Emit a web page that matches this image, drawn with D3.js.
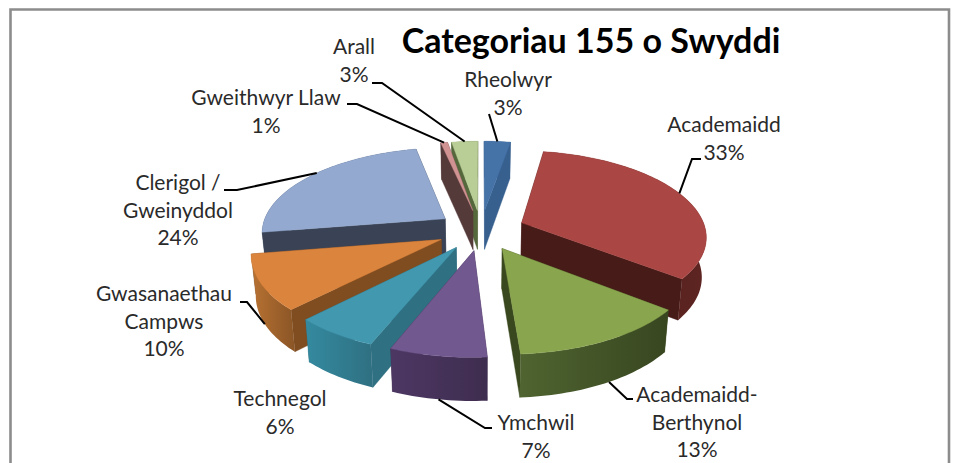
<!DOCTYPE html>
<html><head><meta charset="utf-8">
<script src="https://cdn.jsdelivr.net/npm/d3@7"></script>
<style>html,body{margin:0;background:#fff}svg{display:block}text{font-family:Lato,"Open Sans",sans-serif;fill:#2a2a2a}</style>
</head><body><svg id="c" width="954" height="463"></svg>
<script>
const title = "Categoriau 155 o Swyddi";
const categories = ["Rheolwyr","Academaidd","Academaidd-\nBerthynol","Ymchwil","Technegol","Gwasanaethau\nCampws","Clerigol /\nGweinyddol","Gweithwyr Llaw","Arall"];
const percentLabels = [3,33,13,7,6,10,24,1,3];
const shares = [2.7,33,13.3,7.1,6.2,10.2,24.2,0.7,2.7];
const topColors  = ["#4572A7","#AA4643","#89A54E","#71588F","#4198AF","#DB843D","#93A9CF","#D19392","#B9CD96"];
const wallColors = ["#37608f","#471b18","#3a481f","#3f2d4f","#2f7082","#7f4d20","#3a4356","#553a3a","#55683c"];
const rimLeft    = ["#37608f","#471b18","#4f6430","#4c3763","#348a9f","#b87232","#3a4356","#553a3a","#55683c"];
const rimRight   = ["#37608f","#5e2522","#384620","#3f2d4f","#2f7082","#8a5526","#3a4356","#553a3a","#55683c"];
const labelX = [508,724,697,536,280,164,178,266,354];
const labelY = [87,132,402,430,406,301,190,105,54];
const leaderFrac = [0.5,0.49,0.47,0.5,null,0.5,0.54,0.5,0.5];
const leaderPts = [[[489,114]],[[692,159],[701,159]],[[627,399],[633,399]],[[485,428],[492,428]],null,[[247,302],[240,302]],[[237,190],[224,190]],[[357,104],[347,104]],[[382,83],[372,83]]];

const svg = d3.select("#c"), defs = svg.append("defs");
svg.append("path").attr("d","M10.5 463V9.5H949V463").attr("fill","none").attr("stroke","#8c8c8c").attr("stroke-width",2.6);

const vx=481, a=184, b=583, hy=-353, D=6.9, e=0.24, depth=39.5, shrink=0.02;
function proj(X,Y,Z){const s=1/(1-Y/D);return [vx+a*X*s*(1-shrink*Z), hy+b*s+Z*depth*Math.sqrt(s)];}
const arcs = d3.pie().sort(null).value(d=>d)(shares).map((d,i)=>{
  const m=(d.startAngle+d.endAngle)/2;
  return {i,a0:d.startAngle,a1:d.endAngle,cx:e*Math.sin(m),cy:-e*Math.cos(m)};
});
const rim=(d,t,Z)=>proj(d.cx+Math.sin(t),d.cy-Math.cos(t),Z);
const line=d3.line();
const closed=p=>line(p)+"Z";
const g=svg.append("g");
arcs.slice().sort((p,q)=>p.cy-q.cy).forEach(d=>{
  const n=Math.max(4,Math.ceil((d.a1-d.a0)*40));
  const ts=d3.range(n+1).map(k=>d.a0+(d.a1-d.a0)*k/n);
  const ap0=proj(d.cx,d.cy,0), ap1=proj(d.cx,d.cy,1);
  const gr=defs.append("linearGradient").attr("id","rim"+d.i);
  gr.append("stop").attr("offset","0").attr("stop-color",rimLeft[d.i]);
  gr.append("stop").attr("offset","1").attr("stop-color",rimRight[d.i]);
  [d.a1,d.a0].forEach(t=>{
    g.append("path").attr("d",closed([ap0,rim(d,t,0),rim(d,t,1),ap1])).attr("fill",wallColors[d.i]).attr("stroke",wallColors[d.i]).attr("stroke-width",.4);
  });
  g.append("path").attr("d",closed(ts.map(t=>rim(d,t,0)).concat(ts.slice().reverse().map(t=>rim(d,t,1))))).attr("fill",`url(#rim${d.i})`);
  g.append("path").attr("d",closed([ap0].concat(ts.map(t=>rim(d,t,0))))).attr("fill",topColors[d.i]).attr("stroke",topColors[d.i]).attr("stroke-width",.4);
});
arcs.forEach(d=>{
  if(leaderFrac[d.i]==null) return;
  const t=d.a0+(d.a1-d.a0)*leaderFrac[d.i];
  const z=(t>Math.PI/2+.3&&t<3*Math.PI/2)?1:0;
  svg.append("path").attr("d",line([rim(d,t,z)].concat(leaderPts[d.i]))).attr("fill","none").attr("stroke","#000").attr("stroke-width",2);
});
categories.forEach((c,i)=>{
  const t=svg.append("text").attr("text-anchor","middle").attr("font-size",21);
  c.split("\n").concat(percentLabels[i]+"%").forEach((s,k)=>t.append("tspan").attr("x",labelX[i]).attr("y",labelY[i]+k*27.5).text(s));
});
svg.append("text").attr("x",591).attr("y",53).attr("text-anchor","middle").attr("font-size",34).attr("font-weight",700).attr("style","fill:#000").text(title);
</script></body></html>
